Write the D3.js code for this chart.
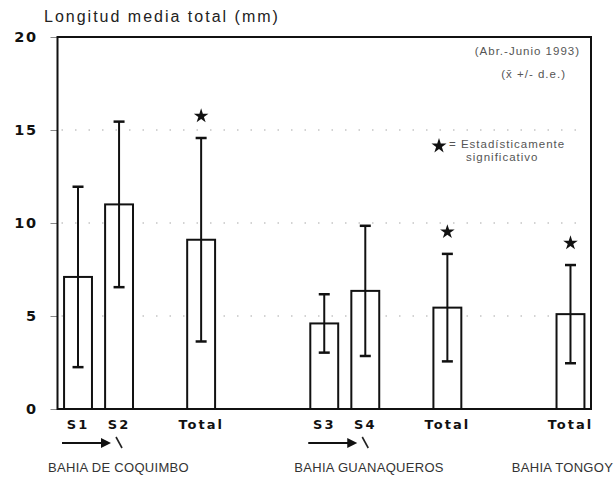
<!DOCTYPE html>
<html>
<head>
<meta charset="utf-8">
<script src="https://cdn.jsdelivr.net/npm/d3@7"></script>
<style>
  html, body { margin: 0; padding: 0; background: #fff; }
  svg { display: block; }
</style>
</head>
<body>
<svg id="chart" width="615" height="489"></svg>
<script>
// Mean total length per sampling station (Apr–Jun 1993), mean ± s.d.
const categories  = ["S1", "S2", "Total", "S3", "S4", "Total", "Total"];
const slots       = [0, 1, 3, 6, 7, 9, 12];          // column position of each bar
const means       = [7.1, 11.0, 9.1, 4.6, 6.35, 5.45, 5.1];
const sds         = [4.85, 4.45, 5.47, 1.57, 3.5, 2.89, 2.64];
const significant = [false, false, true, false, false, true, true];
const yTicks      = [0, 5, 10, 15, 20];
const gridValues  = [5, 10, 15];
const bays        = ["BAHIA DE COQUIMBO", "BAHIA GUANAQUEROS", "BAHIA TONGOY"];
const baySlots    = [0, 6, 11.3];
const arrowSlots  = [0, 6];                          // stations ordered along the arrow

const svg = d3.select("#chart");
const plotLeft = 57.5, plotRight = 591, plotTop = 37, plotBottom = 409;

const y = d3.scaleLinear().domain([0, 20]).range([plotBottom, plotTop]);
const x = d3.scaleBand().domain(d3.range(13)).range([plotLeft, plotRight])
  .paddingInner(0.32).paddingOuter(0.16);
const cx = s => x(Math.floor(s)) + x.bandwidth() / 2 + (s % 1) * x.step();

const bars = categories.map((c, i) => ({
  cat: c, slot: slots[i], mean: means[i], sd: sds[i], sig: significant[i]
}));

// dotted reference lines
svg.append("g").selectAll("line").data(gridValues).join("line")
  .attr("x1", plotLeft + 4).attr("x2", plotRight - 4)
  .attr("y1", d => y(d)).attr("y2", d => y(d))
  .attr("stroke", "#a8a8a8").attr("stroke-width", 1.2)
  .attr("stroke-dasharray", "1.5 12");

// y axis with heavy numerals
const yAxis = svg.append("g").attr("transform", `translate(${plotLeft},0)`)
  .call(d3.axisLeft(y).tickValues(yTicks).tickSize(7).tickPadding(13).tickFormat(d3.format("d")));
yAxis.select(".domain").remove();
yAxis.selectAll(".tick line").attr("stroke", "#888").attr("stroke-width", 1);
yAxis.selectAll(".tick text")
  .attr("font-family", "DejaVu Sans").attr("font-weight", "bold")
  .attr("font-size", 14.5).attr("letter-spacing", 1.5).attr("fill", "#111");

// frame
svg.append("rect").attr("x", plotLeft).attr("y", plotTop)
  .attr("width", plotRight - plotLeft).attr("height", plotBottom - plotTop)
  .attr("fill", "none").attr("stroke", "#111").attr("stroke-width", 2);

// bars
svg.append("g").selectAll("rect").data(bars).join("rect")
  .attr("x", d => x(d.slot)).attr("width", x.bandwidth())
  .attr("y", d => y(d.mean)).attr("height", d => plotBottom - y(d.mean))
  .attr("fill", "#fff").attr("stroke", "#111").attr("stroke-width", 2);

// error bars
const eb = svg.append("g").attr("stroke", "#111");
eb.selectAll("line.v").data(bars).join("line").attr("class", "v")
  .attr("x1", d => cx(d.slot)).attr("x2", d => cx(d.slot))
  .attr("y1", d => y(d.mean + d.sd)).attr("y2", d => y(d.mean - d.sd))
  .attr("stroke-width", 2);
["hi", "lo"].forEach(k => {
  eb.selectAll("line." + k).data(bars).join("line").attr("class", k)
    .attr("x1", d => cx(d.slot) - 5.5).attr("x2", d => cx(d.slot) + 5.5)
    .attr("y1", d => y(k === "hi" ? d.mean + d.sd : d.mean - d.sd))
    .attr("y2", d => y(k === "hi" ? d.mean + d.sd : d.mean - d.sd))
    .attr("stroke-width", 2.5);
});

// significance stars
const star = d3.symbol().type(d3.symbolStar).size(66);
svg.append("g").selectAll("path").data(bars.filter(d => d.sig)).join("path")
  .attr("d", star)
  .attr("transform", d => `translate(${cx(d.slot)},${y(d.mean + d.sd) - 22})`)
  .attr("fill", "#111");

// x category labels
svg.append("g").selectAll("text").data(bars).join("text")
  .attr("x", d => cx(d.slot)).attr("y", 429)
  .attr("text-anchor", "middle")
  .attr("font-family", "DejaVu Sans").attr("font-weight", "bold")
  .attr("font-size", 13).attr("letter-spacing", 2).attr("fill", "#111")
  .text(d => d.cat);

// arrows showing station order
const arrows = svg.append("g");
arrowSlots.forEach(s => {
  const x0 = cx(s) - 16, x1 = cx(s) + 33, ay = 443;
  arrows.append("line").attr("x1", x0).attr("x2", x1 - 8)
    .attr("y1", ay).attr("y2", ay).attr("stroke", "#111").attr("stroke-width", 2);
  arrows.append("path")
    .attr("d", `M${x1},${ay} L${x1 - 10},${ay - 5} L${x1 - 10},${ay + 5} Z`)
    .attr("fill", "#111");
  arrows.append("line").attr("x1", x1 + 5).attr("y1", ay - 6)
    .attr("x2", x1 + 11).attr("y2", ay + 5)
    .attr("stroke", "#222").attr("stroke-width", 1.6);
});

// bay names
svg.append("g").selectAll("text").data(bays).join("text")
  .attr("x", (d, i) => cx(baySlots[i]) - 30).attr("y", 472)
  .attr("font-family", "Liberation Sans").attr("font-size", 13)
  .attr("letter-spacing", 0.3).attr("fill", "#333")
  .text(d => d);

// y title
svg.append("text").attr("x", 44).attr("y", 22)
  .attr("font-family", "Liberation Sans").attr("font-size", 16)
  .attr("letter-spacing", 2).attr("fill", "#222").text("Longitud media total (mm)");

// legend
const lg = svg.append("g").attr("font-family", "Liberation Sans")
  .attr("font-size", 11.5).attr("letter-spacing", 1).attr("fill", "#555");
lg.append("text").attr("x", 580).attr("y", 55).attr("text-anchor", "end")
  .text("(Abr.-Junio 1993)");
lg.append("text").attr("x", 566).attr("y", 78).attr("text-anchor", "end")
  .text("(x\u0304 +/- d.e.)");
lg.append("path").attr("d", star.size(70)())
  .attr("transform", "translate(439,146)").attr("fill", "#111");
lg.append("text").attr("x", 449).attr("y", 148).text("= Estadísticamente");
lg.append("text").attr("x", 466).attr("y", 161).text("significativo");
</script>
</body>
</html>
